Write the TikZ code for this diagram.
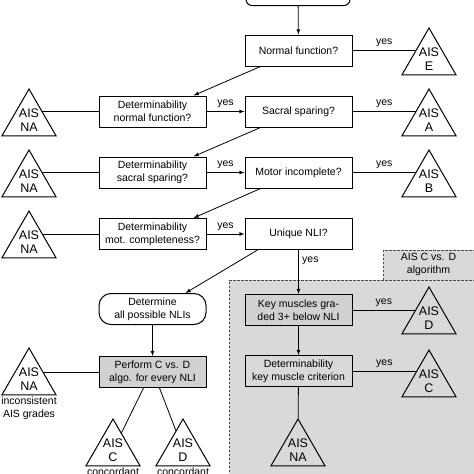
\documentclass[tikz,border=0pt]{standalone}
\usepackage{fontspec}
\setmainfont{Liberation Sans}
\usetikzlibrary{shapes.geometric,arrows}
\definecolor{regiongray}{gray}{0.85}
\definecolor{boxgray}{gray}{0.82}

\begin{document}
\begin{tikzpicture}[x=1pt,y=-1pt,font=\fontsize{10.5}{13}\selectfont,
  box/.style={draw,line width=1pt,minimum width=107pt,minimum height=31pt,align=center,inner sep=1pt},
  greybox/.style={box,fill=boxgray},
  roundbox/.style={box,rounded corners=12pt},
  ais/.style={draw,line width=1pt,regular polygon,regular polygon sides=3,minimum size=62.4pt,inner sep=0pt,
    label={[inner sep=0pt,align=center,font=\fontsize{12.5}{14.5}\selectfont]center:AIS\\#1}},
  arr/.style={-latex,line width=0.8pt},
  conn/.style={line width=0.8pt},
  regionline/.style={line width=0.9pt,dash pattern=on 2.5pt off 1.5pt,black!70}]
  \path[use as bounding box,clip](0,0)rectangle(474,474);
  % C vs. D region
  \fill[regiongray](229,280)rectangle(480,480);
  \fill[regiongray](383,250)rectangle(480,280);
  \draw[regionline](229,480)--(229,280)--(480,280);
  \draw[regionline](383,280)--(383,250)--(480,250);
  \node[align=center](algo)at(428.5,264){AIS C vs. D\\algorithm};
  % boxes
  \node[box,rounded corners=6pt,minimum width=104pt](start)at(298,-10){};
  \node[box](nf)at(298.5,50.5){Normal function?};
  \node[box](ss)at(298.5,111.5){Sacral sparing?};
  \node[box](mi)at(298.5,172.5){Motor incomplete?};
  \node[box](un)at(298.5,234){Unique NLI?};
  \node[greybox](km)at(298.5,310){Key muscles gra-\\ded 3+ below NLI};
  \node[box](dk)at(298.5,371){Determinability\\key muscle criterion};
  \node[box](dnf)at(152.5,111.5){Determinability\\normal function?};
  \node[box](dss)at(152.5,172.5){Determinability\\sacral sparing?};
  \node[box](dmc)at(152.5,234){Determinability\\mot. completeness?};
  \node[roundbox](dnl)at(152.5,309){Determine\\all possible NLIs};
  \node[greybox](pcd)at(152.5,372){Perform C vs. D\\algo. for every NLI};
  % grades
  \node[ais=E](aisE)at(429,59.2){};
  \node[ais=A](aisA)at(429,120.2){};
  \node[ais=B](aisB)at(429,181.2){};
  \node[ais=D](aisD2)at(429,318.2){};
  \node[ais=C](aisC2)at(429,381.2){};
  \node[ais=NA](na1)at(29,120.2){};
  \node[ais=NA](na2)at(29,181.2){};
  \node[ais=NA](na3)at(29,242.2){};
  \node[ais=NA,label={[inner sep=1pt,align=center]below:inconsistent\\AIS grades}](na4)at(29,379.2){};
  \node[ais=NA](na5)at(298,450.2){};
  \node[ais=C,label={[inner sep=1pt]below:concordant}](aisC)at(113,450.2){};
  \node[ais=D,label={[inner sep=1pt]below:concordant}](aisD)at(183,450.2){};
  % connectors
  \draw[arr](start)--(nf);
  \draw[conn](nf.east)--node[above]{yes}(nf.east-|aisE.144);
  \draw[conn](ss.east)--node[above]{yes}(ss.east-|aisA.144);
  \draw[conn](mi.east)--node[above]{yes}(mi.east-|aisB.144);
  \draw[arr]([xshift=16pt]nf.south west)--([xshift=-13pt]dnf.north east);
  \draw[arr]([xshift=16pt]ss.south west)--([xshift=-13pt]dss.north east);
  \draw[arr]([xshift=16pt]mi.south west)--([xshift=-13pt]dmc.north east);
  \draw[arr]([xshift=13pt]un.south west)--([xshift=-21pt]dnl.north east);
  \draw[arr](dnf)--node[above]{yes}(ss);
  \draw[arr](dss)--node[above]{yes}(mi);
  \draw[arr](dmc)--node[above]{yes}(un);
  \draw[conn](dnf.west-|na1.36)--(dnf.west);
  \draw[conn](dss.west-|na2.36)--(dss.west);
  \draw[conn](dmc.west-|na3.36)--(dmc.west);
  \draw[conn](pcd.west-|na4.27)--(pcd.west);
  \draw[arr](un)--node[pos=.25,right]{yes}(km);
  \draw[conn](km.east)--node[above]{yes}(km.east-|aisD2.149);
  \draw[arr](km)--(dk);
  \draw[conn](dk.east)--node[above]{yes}(dk.east-|aisC2.141);
  \draw[conn](dk)--(na5);
  \draw[arr](dnl)--(pcd);
  \draw[conn]([xshift=-9pt]pcd.south)--(aisC.64);
  \draw[conn]([xshift=7pt]pcd.south)--(aisD.110);
\end{tikzpicture}
\end{document}
